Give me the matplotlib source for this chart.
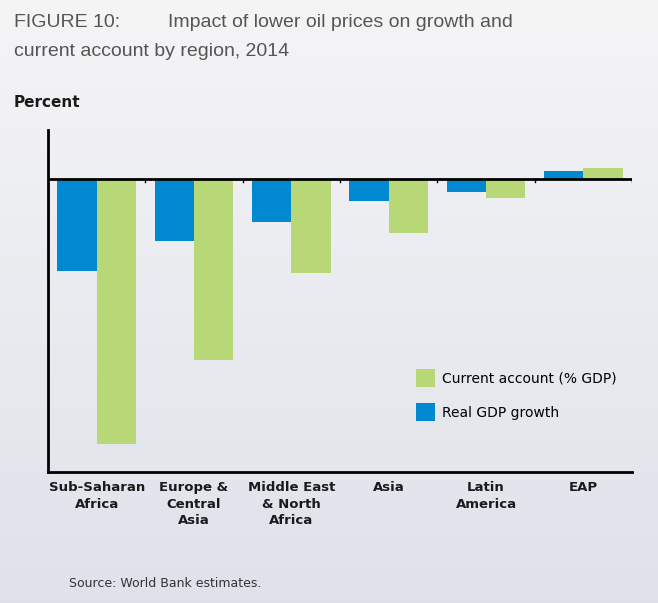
import numpy as np
import matplotlib
matplotlib.use("Agg")
import matplotlib.pyplot as plt

plt.rcParams['font.family'] = ['DejaVu Sans']

# regional impact, percent
regions = ["Sub-Saharan\nAfrica", "Europe &\nCentral\nAsia", "Middle East\n& North\nAfrica",
           "Asia", "Latin\nAmerica", "EAP"]
gdp_growth = [-1.85, -1.25, -0.87, -0.45, -0.27, 0.15]
current_account = [-5.31, -3.63, -1.89, -1.09, -0.39, 0.21]

blue = "#0088d0"
green = "#b8d878"

fig = plt.figure(figsize=(6.58, 6.03), dpi=100)

# background gradient
bg = fig.add_axes([0, 0, 1, 1], zorder=-10)
grad = np.linspace(0, 1, 256).reshape(-1, 1)
top = np.array([0.960, 0.960, 0.965])
bot = np.array([0.875, 0.886, 0.918])
img = top + (bot - top) * grad[:, :, None]
bg.imshow(img, aspect="auto", extent=[0, 1, 0, 1])
bg.axis("off")

ax = fig.add_axes([0.073, 0.2172, 0.8875, 0.5672])
ax.patch.set_alpha(0)

x = np.arange(len(regions))
w = 0.405
ax.bar(x - w / 2, gdp_growth, w, color=blue, label="Real GDP growth", zorder=2)
ax.bar(x + w / 2, current_account, w, color=green, label="Current account (% GDP)", zorder=2)

ax.set_xlim(-0.5, 5.5)
ax.set_ylim(-5.87, 0.97)
ax.axhline(0, color="black", lw=2, zorder=3)
for b in np.arange(0.5, 5.6, 1.0):
    ax.plot([b, b], [0, -0.07], color="black", lw=1, zorder=3)

for s in ["top", "right"]:
    ax.spines[s].set_visible(False)
for s in ["left", "bottom"]:
    ax.spines[s].set_linewidth(2)
    ax.spines[s].set_color("black")
ax.set_yticks([])
ax.set_xticks([])

for i, lab in enumerate(regions):
    ax.text(i, -6.05, lab, ha="center", va="top", fontsize=9.5, fontweight="bold",
            color="#1a1a1a", linespacing=1.35)

h, l = ax.get_legend_handles_labels()
ax.legend(h[::-1], l[::-1], loc="upper left", bbox_to_anchor=(0.63, 0.30), frameon=False,
          fontsize=10, handlelength=1.4, handleheight=1.6, handletextpad=0.5,
          labelspacing=1.15, borderaxespad=0, borderpad=0)

tfam = ["Liberation Sans", "DejaVu Sans"]
fig.text(0.021, 0.962, "FIGURE 10:", fontsize=14, color="#555555", va="center", family=tfam)
fig.text(0.255, 0.962, "Impact of lower oil prices on growth and",
         fontsize=14, color="#555555", va="center", family=tfam)
fig.text(0.021, 0.915, "current account by region, 2014", fontsize=14, color="#555555",
         va="center", family=tfam)
fig.text(0.021, 0.83, "Percent", fontsize=11, fontweight="bold", color="#1a1a1a", va="center")
fig.text(0.105, 0.033, "Source: World Bank estimates.", fontsize=9, color="#333333", va="center")

fig.savefig("out.png", dpi=100)
